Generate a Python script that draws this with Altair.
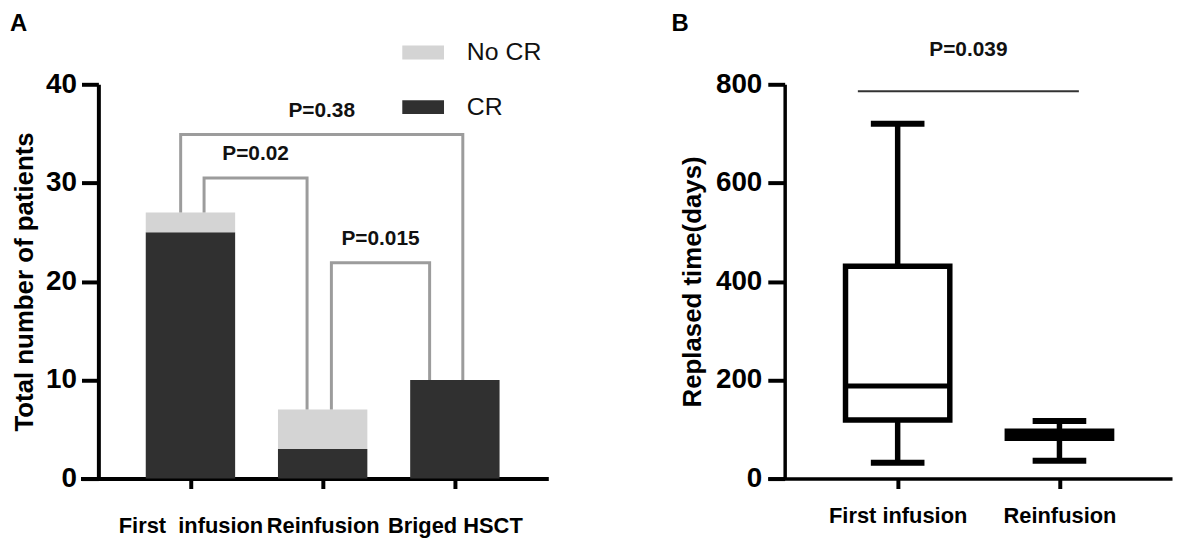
import json
import altair as alt
import pandas as pd

# ---------------- data: panel A ----------------
categories_a = ["First \u00a0infusion", "Reinfusion", "Briged HSCT"]
status_names = ["No CR", "CR"]
cr_counts = [25, 3, 10]
no_cr_counts = [2, 4, 0]
bracket_pairs = [(0, 2), (0, 1), (1, 2)]
bracket_labels = ["P=0.38", "P=0.02", "P=0.015"]
bracket_heights = [34.9, 30.5, 21.9]

# ---------------- data: panel B ----------------
categories_b = ["First infusion", "Reinfusion"]
whisker_low = [32, 36]
q1 = [119, 82]
median = [188, 89]
q3 = [431, 96]
whisker_high = [720, 117]
p_b_label = "P=0.039"
p_b_height = 786
panel_letters = ["A", "B"]

# ---------------- style ----------------
FONT = "Liberation Sans"
DARK = "#303030"
LIGHT = "#d4d4d4"
GRAY = "#9c9c9c"
TITLE_A = "Total number of patients"
TITLE_B = "Replased time(days)"
bracket_leg_offsets = [(-0.074, 0.06), (0.103, -0.118), (0.066, -0.191)]
p_b_line_offsets = (-0.246, 0.12)

# ---------------- panel A tables ----------------
bar_rows = []
for i, cat in enumerate(categories_a):
    bar_rows.append({"x": i, "status": "CR", "y": cr_counts[i], "ord": 0})
    if no_cr_counts[i] > 0:
        bar_rows.append({"x": i, "status": "No CR", "y": no_cr_counts[i], "ord": 1})
df_bars = pd.DataFrame(bar_rows)
totals = [c + n for c, n in zip(cr_counts, no_cr_counts)]

line_rows, text_rows = [], []
for k, ((a, b), lab, h) in enumerate(zip(bracket_pairs, bracket_labels, bracket_heights)):
    xa_ = a + bracket_leg_offsets[k][0]
    xb_ = b + bracket_leg_offsets[k][1]
    pts = [(xa_, totals[a]), (xa_, h), (xb_, h), (xb_, totals[b])]
    for s, (px, py) in enumerate(pts):
        line_rows.append({"br": k, "seq": s, "x": px, "y": py})
    text_rows.append({"x": (xa_ + xb_) / 2, "y": h, "t": lab})
df_lines = pd.DataFrame(line_rows)
df_ptext = pd.DataFrame(text_rows)

label_expr_a = json.dumps(categories_a) + "[datum.value]"

xa_scale = alt.Scale(domain=[-0.794, 2.669], nice=False, zero=False)
ya_scale = alt.Scale(domain=[0, 40], nice=False)


def xa(field="x:Q"):
    return alt.X(field, scale=xa_scale, title=None)


def ya(field="y:Q"):
    return alt.Y(field, scale=ya_scale, title=TITLE_A)


bars = alt.Chart(df_bars).mark_bar(size=90).encode(
    x=alt.X("x:Q", scale=xa_scale, title=None, axis=alt.Axis(
        values=[0, 1, 2], labelExpr=label_expr_a, grid=False,
        labelFont=FONT, labelFontSize=22, labelFontWeight="bold", labelColor="black",
        labelPadding=27, labelOverlap=False, labelFlush=False,
        tickSize=10, tickWidth=4, tickColor="black", domainWidth=4, domainColor="black")),
    y=alt.Y("y:Q", stack="zero", scale=ya_scale, title=TITLE_A, axis=alt.Axis(
        values=[0, 10, 20, 30, 40], grid=False, offset=-18,
        titleFont=FONT, titleFontSize=26, titleFontWeight="bold", titleColor="black", titlePadding=8,
        labelFont=FONT, labelFontSize=28, labelFontWeight="bold", labelColor="black",
        labelPadding=5, labelFlush=False,
        tickSize=17, tickWidth=4, tickColor="black", domainWidth=4, domainColor="black")),
    color=alt.Color("status:N", scale=alt.Scale(domain=status_names, range=[LIGHT, DARK]),
                    legend=alt.Legend(title=None, orient="none", legendX=324, legendY=-53,
                                      symbolType="M-1,-0.333H1V0.333H-1Z", symbolSize=1764,
                                      symbolStrokeWidth=0, symbolOpacity=1,
                                      labelFont=FONT, labelFontSize=25, labelColor="#111",
                                      labelOffset=23, rowPadding=21, padding=0)),
    order=alt.Order("ord:Q"),
)

brackets = alt.Chart(df_lines).mark_line(color=GRAY, strokeWidth=3, strokeJoin="miter").encode(
    x=xa(), y=ya(), detail="br:N", order="seq:Q",
)

ptext_a = alt.Chart(df_ptext).mark_text(font=FONT, fontSize=21, fontWeight="bold",
                                         color="#111", baseline="middle", dy=-24).encode(
    x=xa(), y=ya(), text="t:N",
)

letter_a = alt.Chart(pd.DataFrame({"t": [panel_letters[0]]})).mark_text(
    font=FONT, fontSize=24, fontWeight="bold", color="black", align="left", baseline="top"
).encode(text="t:N", x=alt.value(-71), y=alt.value(-73))

panel_a = alt.layer(bars, brackets, ptext_a, letter_a).properties(width=471, height=397)

# ---------------- panel B tables ----------------
df_box = pd.DataFrame({
    "x": list(range(len(categories_b))),
    "low": whisker_low, "q1": q1, "med": median, "q3": q3, "high": whisker_high,
})
df_caps = pd.DataFrame({
    "x": list(range(len(categories_b))) * 2,
    "y": whisker_low + whisker_high,
})
x_left = 0 + p_b_line_offsets[0]
x_right = 1 + p_b_line_offsets[1]
df_pline = pd.DataFrame({"x": [x_left], "x2": [x_right], "y": [p_b_height],
                         "xm": [(x_left + x_right) / 2], "t": [p_b_label]})

label_expr_b = json.dumps(categories_b) + "[datum.value]"
xb_scale = alt.Scale(domain=[-0.772, 1.665], nice=False, zero=False)
yb_scale = alt.Scale(domain=[0, 800], nice=False)


def xb(field="x:Q"):
    return alt.X(field, scale=xb_scale, title=None)


def yb(field):
    return alt.Y(field, scale=yb_scale, title=TITLE_B)


whiskers = alt.Chart(df_box).mark_rule(color="black", strokeWidth=5.5).encode(
    x=alt.X("x:Q", scale=xb_scale, title=None, axis=alt.Axis(
        values=[0, 1], labelExpr=label_expr_b, grid=False,
        labelFont=FONT, labelFontSize=22, labelFontWeight="bold", labelColor="black",
        labelPadding=17, labelOverlap=False, labelFlush=False,
        tickSize=10, tickWidth=4, tickColor="black", domainWidth=3.5, domainColor="black")),
    y=alt.Y("low:Q", scale=yb_scale, title=TITLE_B, axis=alt.Axis(
        values=[0, 200, 400, 600, 800], grid=False, offset=-17,
        titleFont=FONT, titleFontSize=26, titleFontWeight="bold", titleColor="black", titlePadding=10,
        labelFont=FONT, labelFontSize=28, labelFontWeight="bold", labelColor="black",
        labelPadding=6, labelFlush=False,
        tickSize=17, tickWidth=4, tickColor="black", domainWidth=3.5, domainColor="black")),
    y2="high:Q",
)

boxes = alt.Chart(df_box).mark_bar(size=105, fill="white", stroke="black", strokeWidth=5.5).encode(
    x=xb(), y=yb("q1:Q"), y2="q3:Q",
)

medians = alt.Chart(df_box).mark_tick(orient="horizontal", size=105, thickness=5,
                                      color="black", opacity=1).encode(
    x=xb(), y=yb("med:Q"),
)

caps = alt.Chart(df_caps).mark_tick(orient="horizontal", size=54, thickness=6,
                                    color="black", opacity=1).encode(
    x=xb(), y=yb("y:Q"),
)

pline = alt.Chart(df_pline).mark_rule(color="#333", strokeWidth=2).encode(
    x=xb(), x2="x2:Q", y=yb("y:Q"),
)

ptext_b = alt.Chart(df_pline).mark_text(font=FONT, fontSize=21, fontWeight="bold",
                                         color="#111", baseline="middle", dy=-41).encode(
    x=xb("xm:Q"), y=yb("y:Q"), text="t:N",
)

letter_b = alt.Chart(pd.DataFrame({"t": [panel_letters[1]]})).mark_text(
    font=FONT, fontSize=24, fontWeight="bold", color="black", align="left", baseline="top"
).encode(text="t:N", x=alt.value(-97), y=alt.value(-73))

panel_b = alt.layer(whiskers, boxes, medians, caps, pline, ptext_b, letter_b).properties(
    width=407, height=397)

chart = alt.hconcat(panel_a, panel_b, spacing=221, bounds="flush").properties(
    padding=2
).configure(font=FONT).configure_view(stroke=None)

chart.save("out.html", embed_options={"renderer": "svg", "actions": False})
